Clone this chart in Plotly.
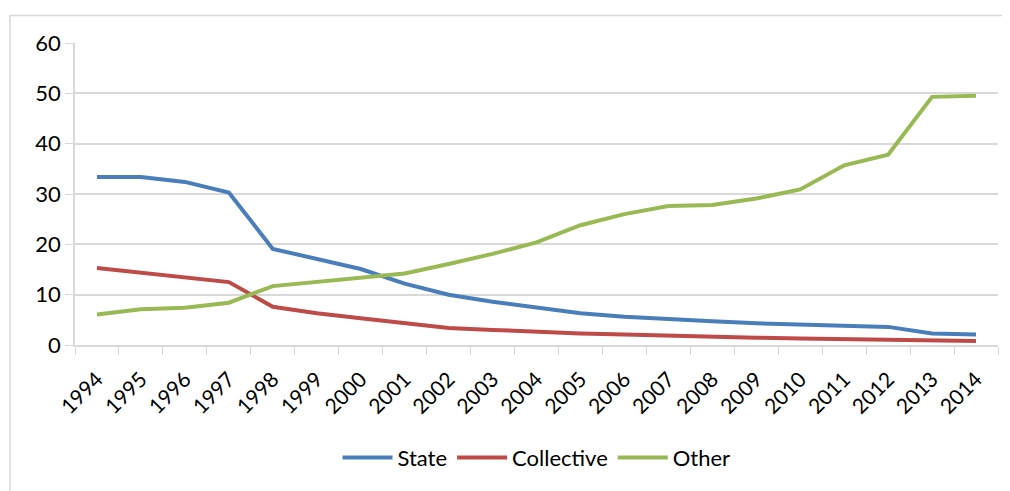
import plotly.graph_objects as go

years = [str(y) for y in range(1994, 2015)]
state = [33.4, 33.4, 32.4, 30.3, 19.1, 17.0, 15.1, 12.2, 10.0, 8.6, 7.4, 6.3, 5.6, 5.1,
         4.7, 4.3, 4.1, 3.9, 3.6, 2.3, 2.1]
collective = [15.3, 14.3, 13.5, 12.5, 7.6, 6.3, 5.3, 4.3, 3.4, 3.0, 2.6, 2.3, 2.1, 1.85,
              1.65, 1.45, 1.3, 1.2, 1.1, 0.95, 0.8]
other = [6.05, 7.1, 7.4, 8.4, 11.7, 12.5, 13.3, 14.2, 16.1, 18.1, 20.4, 23.8, 26.0, 27.6,
         27.8, 29.1, 30.9, 35.7, 37.8, 49.3, 49.5]

series = [("State", state, "#4a7ebb"), ("Collective", collective, "#be4b48"),
          ("Other", other, "#98b954")]

fig = go.Figure()
for name, vals, col in series:
    fig.add_trace(go.Scatter(x=years, y=vals, name=name, mode="lines",
                             line=dict(color=col, width=4)))

font = "Lato, 'Open Sans', sans-serif"
fig.update_layout(
    width=1002, height=483,
    margin=dict(l=67, r=12, t=35, b=144),
    paper_bgcolor="white", plot_bgcolor="white",
    font=dict(family=font, size=20, color="#000000"),
    showlegend=True,
    legend=dict(orientation="h", x=0.5, xanchor="center", y=-0.373, yanchor="middle",
                font=dict(size=22), itemwidth=50, traceorder="normal"),
    xaxis=dict(type="category", range=[-0.5, 20.5], tickangle=-45, automargin=False,
               tickson="boundaries", ticks="outside", ticklen=8, tickcolor="#d9d9d9",
               ticklabelstandoff=12,
               showline=True, linecolor="#d9d9d9", linewidth=1.5,
               showgrid=False, tickfont=dict(size=21)),
    yaxis=dict(range=[0, 60], dtick=10, ticks="outside", ticklen=8, automargin=False,
               tickcolor="#d9d9d9", showline=True, linecolor="#d9d9d9", linewidth=1.5,
               showgrid=True, gridcolor="#d9d9d9", gridwidth=1.5, zeroline=False,
               tickfont=dict(size=22)),
    shapes=[dict(type="rect", xref="paper", yref="paper",
                 x0=-0.0704, x1=1.02, y0=-0.5, y1=1.091,
                 line=dict(color="#d9d9d9", width=1.5), fillcolor="rgba(0,0,0,0)",
                 layer="below")],
)

fig.write_html("out.html")
